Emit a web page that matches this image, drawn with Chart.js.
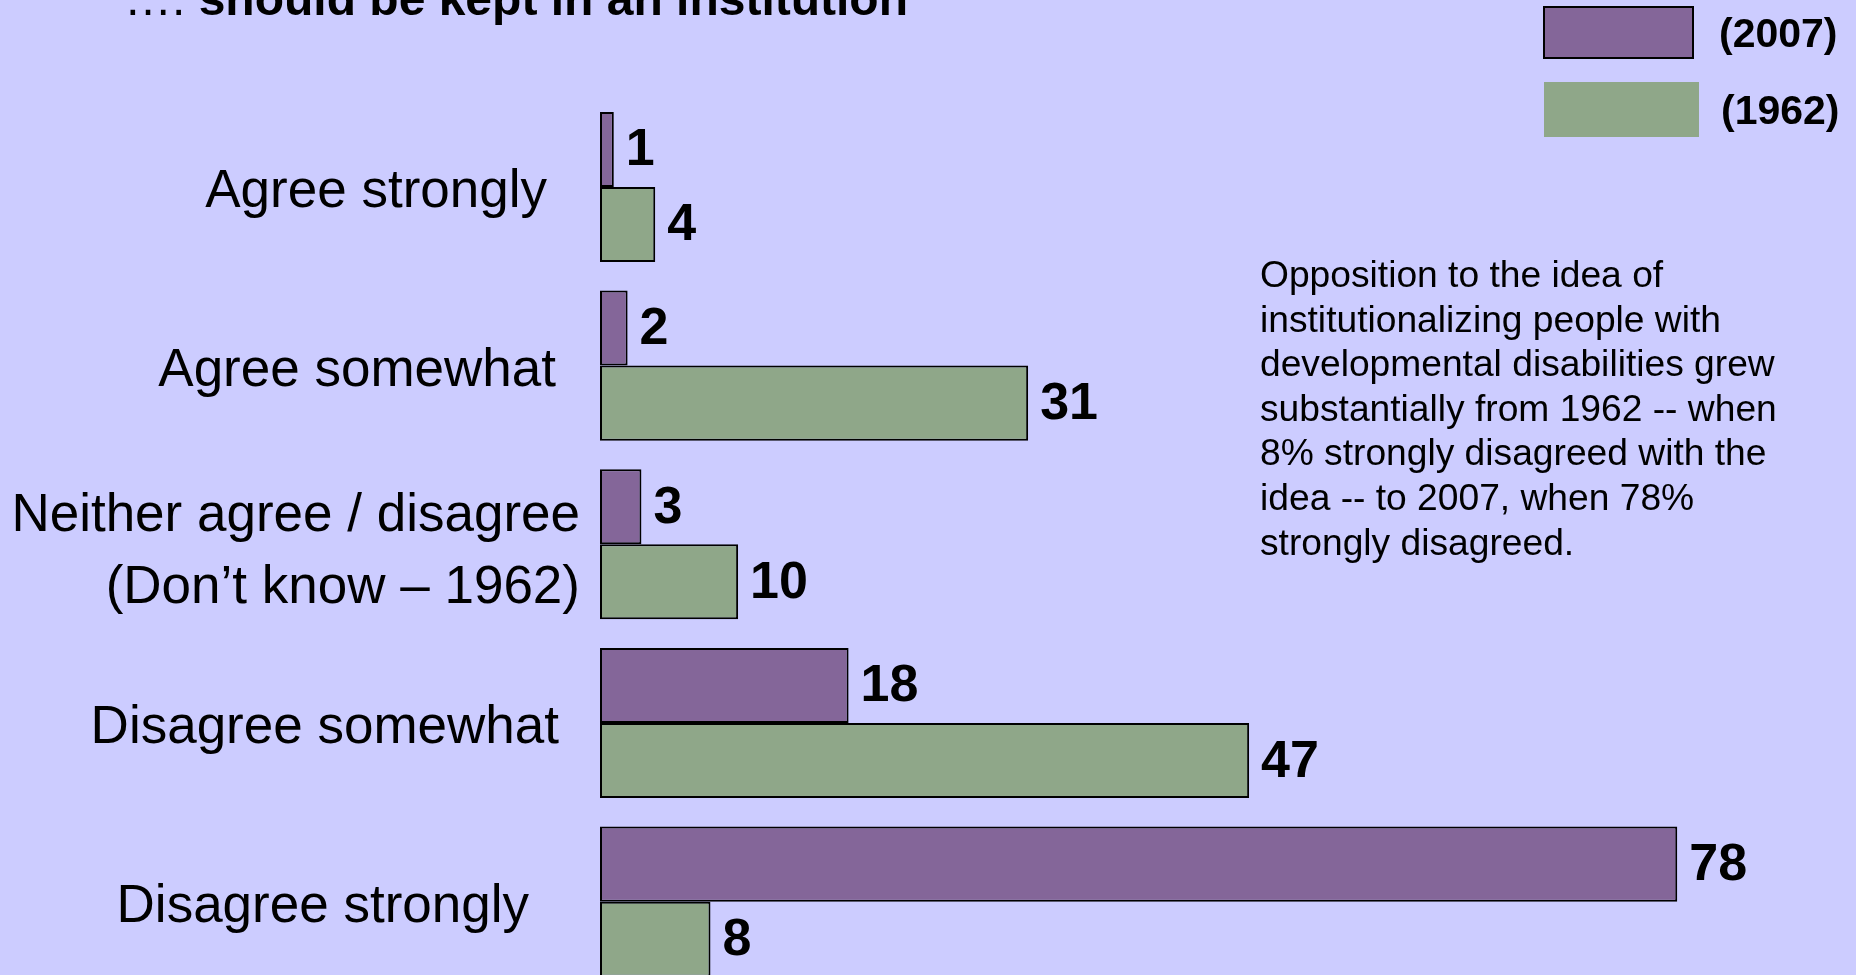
<!DOCTYPE html>
<html>
<head>
<meta charset="utf-8">
<script src="https://cdn.jsdelivr.net/npm/chart.js@4"></script>
<style>
  html, body { margin: 0; padding: 0; background: #CCCCFF; overflow: hidden; }
  #wrap { position: absolute; left: 0; top: 0; width: 1856px; height: 1000px; }
</style>
</head>
<body>
<div id="wrap"><canvas id="miGrafico"></canvas></div>
<script>
// datos
const categorias = ['Agree strongly', 'Agree somewhat', ['Neither agree / disagree', '(Don’t know – 1962)'], 'Disagree somewhat', 'Disagree strongly'];
const valores2007 = [1, 2, 3, 18, 78];
const valores1962 = [4, 31, 10, 47, 8];
const series = ['(2007)', '(1962)'];
const titulo = ['…. ', 'should be kept in an institution'];
const nota = [
  'Opposition to the idea of',
  'institutionalizing people with',
  'developmental disabilities grew',
  'substantially from 1962 -- when',
  '8% strongly disagreed with the',
  'idea -- to 2007, when 78%',
  'strongly disagreed.'
];

const morado = '#846699';
const verde = '#8FA789';
const fuente = '"Liberation Sans", Arial, sans-serif';

// borde derecho de cada etiqueta de categoria
const bordeEtiqueta = [547, 556, 580, 559, 529];

const textos = {
  id: 'textos',
  afterDatasetsDraw(chart) {
    const ctx = chart.ctx;
    const yScale = chart.scales.y;
    ctx.save();
    ctx.fillStyle = '#000';
    ctx.textBaseline = 'alphabetic';

    // valores al final de cada barra
    ctx.font = 'bold 52px ' + fuente;
    ctx.textAlign = 'left';
    chart.data.datasets.forEach((ds, di) => {
      chart.getDatasetMeta(di).data.forEach((bar, i) => {
        ctx.fillText(ds.data[i], bar.x + 12, bar.y + 16);
      });
    });

    // etiquetas de categoria
    ctx.font = '53px ' + fuente;
    ctx.textAlign = 'right';
    chart.data.labels.forEach((lab, i) => {
      const yc = yScale.getPixelForValue(i);
      if (Array.isArray(lab)) {
        ctx.fillText(lab[0], bordeEtiqueta[i], yc - 32 + 19);
        ctx.fillText(lab[1], bordeEtiqueta[i], yc + 40 + 19);
      } else {
        ctx.fillText(lab, bordeEtiqueta[i], yc + 20);
      }
    });

    // titulo (cortado arriba)
    ctx.textAlign = 'left';
    ctx.font = '48px ' + fuente;
    ctx.fillText(titulo[0], 124, 15);
    const w = ctx.measureText(titulo[0]).width;
    ctx.font = 'bold 48px ' + fuente;
    ctx.fillText(titulo[1], 124 + w, 15);

    // leyenda
    ctx.fillStyle = chart.data.datasets[0].backgroundColor;
    ctx.fillRect(1544, 7, 149, 51);
    ctx.strokeStyle = '#000';
    ctx.lineWidth = 2;
    ctx.strokeRect(1544, 7, 149, 51);
    ctx.fillStyle = chart.data.datasets[1].backgroundColor;
    ctx.fillRect(1544, 82, 155, 55);
    ctx.fillStyle = '#000';
    ctx.font = 'bold 41px ' + fuente;
    ctx.fillText(chart.data.datasets[0].label, 1719, 47);
    ctx.fillText(chart.data.datasets[1].label, 1721, 124);

    // nota
    ctx.font = '37.2px ' + fuente;
    nota.forEach((linea, i) => {
      ctx.fillText(linea, 1260, 287 + i * 44.6);
    });
    ctx.restore();
  }
};

new Chart(document.getElementById('miGrafico'), {
  type: 'bar',
  data: {
    labels: categorias,
    datasets: [{
      label: series[0],
      data: valores2007,
      backgroundColor: morado,
      borderColor: '#000',
      borderWidth: 2,
      borderSkipped: false
    }, {
      label: series[1],
      data: valores1962,
      backgroundColor: verde,
      borderColor: '#000',
      borderWidth: 2,
      borderSkipped: false
    }]
  },
  options: {
    indexAxis: 'y',
    responsive: true,
    maintainAspectRatio: false,
    animation: false,
    devicePixelRatio: 1,
    layout: { padding: { left: 600, right: 13, top: 97.6, bottom: 9 } },
    datasets: { bar: { categoryPercentage: 0.84, barPercentage: 1.0 } },
    scales: {
      x: { display: false, min: 0, max: 90 },
      y: { display: false }
    },
    plugins: {
      legend: { display: false },
      tooltip: { enabled: false }
    }
  },
  plugins: [textos]
});
</script>
</body>
</html>
